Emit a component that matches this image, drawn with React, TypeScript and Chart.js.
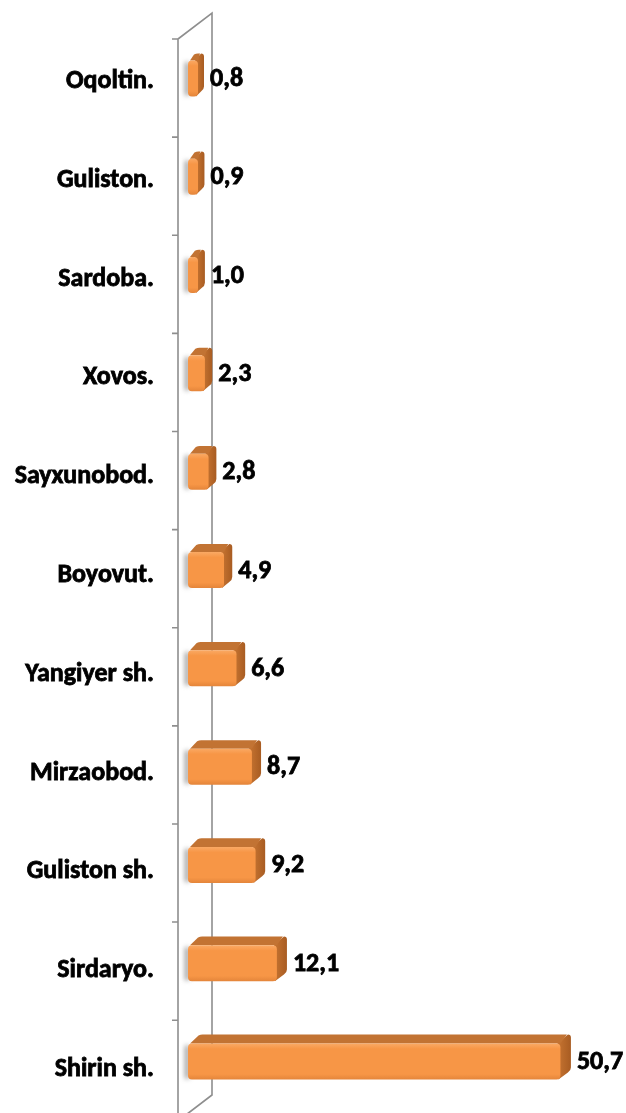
import React, { useEffect, useRef } from "react";
import { Chart, registerables } from "chart.js";

Chart.register(...registerables);

const categories = [
  "Oqoltin.",
  "Guliston.",
  "Sardoba.",
  "Xovos.",
  "Sayxunobod.",
  "Boyovut.",
  "Yangiyer sh.",
  "Mirzaobod.",
  "Guliston sh.",
  "Sirdaryo.",
  "Shirin sh.",
];
const values = [0.8, 0.9, 1.0, 2.3, 2.8, 4.9, 6.6, 8.7, 9.2, 12.1, 50.7];
const valueLabels = values.map((v) => v.toFixed(1).replace(".", ","));

const FONT = 'Carlito, Lato, "Open Sans", sans-serif';
const CANVAS_W = 626;
const CANVAS_H = 1121;

const BAR_H = 36;

function roundRectPath(ctx: CanvasRenderingContext2D, x: number, y: number, w: number, h: number, r: number) {
  const rr = Math.min(r, w / 2, h / 2);
  ctx.beginPath();
  ctx.moveTo(x + rr, y);
  ctx.lineTo(x + w - rr, y);
  ctx.quadraticCurveTo(x + w, y, x + w, y + rr);
  ctx.lineTo(x + w, y + h - rr);
  ctx.quadraticCurveTo(x + w, y + h, x + w - rr, y + h);
  ctx.lineTo(x + rr, y + h);
  ctx.quadraticCurveTo(x, y + h, x, y + h - rr);
  ctx.lineTo(x, y + rr);
  ctx.quadraticCurveTo(x, y, x + rr, y);
  ctx.closePath();
}

const wallPlugin = {
  id: "wall3d",
  beforeDatasetsDraw(chart: any) {
    const { ctx, chartArea } = chart;
    const yScale = chart.scales.y;
    const fx = chartArea.left - 10;
    const bx = chartArea.left + 24;
    const topFront = chartArea.top + 7;
    const topBack = topFront - 26;
    const bottomBack = chartArea.bottom - 24;
    ctx.save();
    ctx.strokeStyle = "#8E8E8E";
    ctx.lineWidth = 1.6;
    ctx.beginPath();
    ctx.moveTo(fx, topFront);
    ctx.lineTo(fx, chart.height);
    ctx.moveTo(fx, topFront);
    ctx.lineTo(bx, topBack);
    ctx.lineTo(bx, bottomBack);
    ctx.lineTo(fx, bottomBack + 26);
    ctx.stroke();
    // tick marks at category boundaries
    const n = categories.length;
    ctx.beginPath();
    for (let k = 0; k <= n; k++) {
      const yb = yScale.getPixelForValue(k - 0.5) + 7 - 0.7 * k;
      ctx.moveTo(fx - 6, yb);
      ctx.lineTo(fx, yb);
    }
    ctx.stroke();
    ctx.restore();
  },
  afterDatasetsDraw(chart: any) {
    const { ctx } = chart;
    const meta = chart.getDatasetMeta(0);
    meta.data.forEach((el: any, i: number) => {
      const p = el.getProps(["x", "y", "base"], true);
      const DX = 6 + 0.45 * i;
      const DY = 7 + 0.2 * i;
      const shift = -3 - 0.5 * i;
      const yc = p.y + shift;
      const top = yc - BAR_H / 2;
      const bottom = yc + BAR_H / 2;
      const x0 = p.base;
      const x1 = Math.max(p.x, x0 + 10);
      ctx.save();
      // soft shadow on the wall, left of bar
      ctx.save();
      ctx.filter = "blur(2.5px)";
      ctx.fillStyle = "rgba(100,100,100,0.7)";
      ctx.fillRect(x0 - 3, top + 2, 4, BAR_H - 3);
      ctx.restore();
      // side face
      const sideGrad = ctx.createLinearGradient(x1, 0, x1 + DX, 0);
      sideGrad.addColorStop(0, "#C06F2E");
      sideGrad.addColorStop(1, "#A85C22");
      ctx.fillStyle = sideGrad;
      ctx.beginPath();
      ctx.moveTo(x1 - 3, top);
      ctx.lineTo(x1 + DX - 3, top - DY);
      ctx.quadraticCurveTo(x1 + DX, top - DY, x1 + DX, top - DY + 3);
      ctx.lineTo(x1 + DX, bottom - DY - 3);
      ctx.quadraticCurveTo(x1 + DX, bottom - DY, x1 + DX - 3, bottom - DY + 2);
      ctx.lineTo(x1 - 2, bottom);
      ctx.closePath();
      ctx.fill();
      // top face
      ctx.fillStyle = "#C27333";
      ctx.beginPath();
      ctx.moveTo(x0 + 2, top);
      ctx.lineTo(x0 + DX, top - DY + 1);
      ctx.quadraticCurveTo(x0 + DX + 2, top - DY, x0 + DX + 4, top - DY);
      ctx.lineTo(x1 + DX - 4, top - DY);
      ctx.lineTo(x1, top);
      ctx.closePath();
      ctx.fill();
      // front face
      const frontGrad = ctx.createLinearGradient(0, top, 0, bottom);
      frontGrad.addColorStop(0, "#FAA964");
      frontGrad.addColorStop(0.15, "#F79646");
      frontGrad.addColorStop(0.85, "#F79646");
      frontGrad.addColorStop(1, "#E4853A");
      ctx.fillStyle = frontGrad;
      roundRectPath(ctx, x0, top, x1 - x0, BAR_H, 4);
      ctx.fill();
      // value label
      ctx.fillStyle = "#000";
      ctx.strokeStyle = "#000";
      ctx.lineWidth = 0.8;
      ctx.font = `bold 26px ${FONT}`;
      ctx.textAlign = "left";
      ctx.textBaseline = "middle";
      const lx = x1 + DX + 6;
      ctx.fillText(valueLabels[i], lx, yc + 1);
      ctx.strokeText(valueLabels[i], lx, yc + 1);
      ctx.restore();
    });
  },
};

export default function App() {
  const ref = useRef<HTMLCanvasElement | null>(null);
  useEffect(() => {
    if (!ref.current) return;
    const chart = new Chart(ref.current, {
      type: "bar",
      data: {
        labels: categories,
        datasets: [
          {
            data: values,
            backgroundColor: "rgba(0,0,0,0)",
            borderWidth: 0,
            barThickness: BAR_H,
          },
        ],
      },
      options: {
        indexAxis: "y",
        responsive: false,
        animation: false,
        events: [],
        layout: { padding: { left: 0, right: 34, top: 32, bottom: 2 } },
        plugins: {
          legend: { display: false },
          tooltip: { enabled: false },
        },
        scales: {
          x: {
            display: false,
            min: 0,
            max: 55,
          },
          y: {
            grid: { display: false, drawTicks: false },
            border: { display: false },
            ticks: {
              color: "#000",
              padding: 34,
              textStrokeColor: "#000",
              textStrokeWidth: 0.8,
              font: { family: FONT, size: 26, weight: "bold" },
            },
            afterFit: (scale: any) => {
              scale.width = 188;
              scale.paddingTop = 0;
              scale.paddingBottom = 0;
            },
          },
        },
      },
      plugins: [wallPlugin],
    });
    return () => chart.destroy();
  }, []);
  return (
    <div
      style={{
        position: "absolute",
        left: 0,
        top: 0,
        width: CANVAS_W,
        height: 1113,
        overflow: "hidden",
        background: "#fff",
      }}
    >
      <canvas ref={ref} width={CANVAS_W} height={CANVAS_H} style={{ display: "block" }} />
    </div>
  );
}
